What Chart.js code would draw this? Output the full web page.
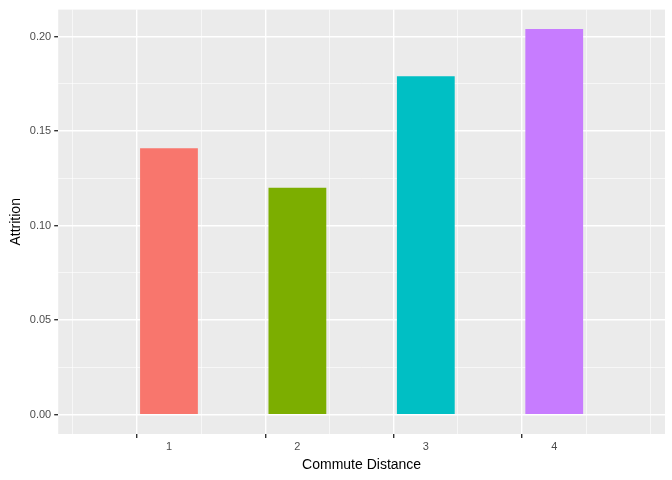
<!DOCTYPE html>
<html>
<head>
<meta charset="utf-8">
<script src="https://cdn.jsdelivr.net/npm/chart.js@4"></script>
<style>
  body { margin: 0; background: #fff; }
</style>
</head>
<body>
<canvas id="chart" width="672" height="480"></canvas>
<script>
const categories = [1, 2, 3, 4];
const attrition = [0.141, 0.120, 0.179, 0.204];
const barColors = ["#F8766D", "#7CAE00", "#00BFC4", "#C77CFF"];
const yTicks = [0, 0.025, 0.05, 0.075, 0.1, 0.125, 0.15, 0.175, 0.2];
const xTicks = [0.5, 1, 1.5, 2, 2.5, 3, 3.5, 4, 4.5];

const isMajor = v => Math.abs(v * 20 - Math.round(v * 20)) < 1e-6;
const isInt = v => Math.abs(v - Math.round(v)) < 1e-6;
const tv = ctx => (ctx && ctx.tick) ? ctx.tick.value : 0.3;

const panelBg = {
  id: "panelBg",
  beforeDraw(c) {
    const a = c.chartArea, ctx = c.ctx;
    ctx.save();
    ctx.fillStyle = "#EBEBEB";
    ctx.fillRect(a.left, a.top, a.right - a.left, a.bottom - a.top);
    ctx.restore();
  }
};

new Chart(document.getElementById("chart"), {
  type: "bar",
  data: {
    datasets: [{
      data: categories.map((c, i) => ({ x: c, y: attrition[i] })),
      backgroundColor: barColors,
      barPercentage: 1,
      categoryPercentage: 0.9
    }]
  },
  options: {
    responsive: false,
    animation: false,
    layout: { padding: { top: 7, right: 7, left: 4, bottom: 2 } },
    plugins: { legend: { display: false }, tooltip: { enabled: false } },
    scales: {
      x: {
        type: "linear",
        min: 0.4, max: 4.6,
        afterBuildTicks: s => { s.ticks = xTicks.map(v => ({ value: v })); },
        ticks: {
          color: "#4D4D4D", font: { family: "Liberation Sans", size: 11 },
          autoSkip: false, maxRotation: 0, padding: 2,
          callback: v => isInt(v) ? String(v) : ""
        },
        grid: {
          color: "#FFFFFF",
          lineWidth: ctx => isInt(tv(ctx)) ? 1.4 : 0.6,
          drawTicks: true, tickLength: 4,
          tickColor: ctx => isInt(tv(ctx)) ? "#333333" : "rgba(0,0,0,0)"
        },
        border: { display: false },
        title: { display: true, text: "Commute Distance", color: "#000", font: { family: "Liberation Sans", size: 14 }, padding: { top: 2 } }
      },
      y: {
        min: -0.0102, max: 0.2143,
        afterBuildTicks: s => { s.ticks = yTicks.map(v => ({ value: v })); },
        ticks: {
          color: "#4D4D4D", font: { family: "Liberation Sans", size: 11 },
          autoSkip: false, padding: 3,
          callback: v => isMajor(v) ? v.toFixed(2) : ""
        },
        grid: {
          color: "#FFFFFF",
          lineWidth: ctx => isMajor(tv(ctx)) ? 1.4 : 0.6,
          drawTicks: true, tickLength: 4,
          tickColor: ctx => isMajor(tv(ctx)) ? "#333333" : "rgba(0,0,0,0)"
        },
        border: { display: false },
        title: { display: true, text: "Attrition", color: "#000", font: { family: "Liberation Sans", size: 14 }, padding: { bottom: 2 } }
      }
    }
  },
  plugins: [panelBg]
});
</script>
</body>
</html>
